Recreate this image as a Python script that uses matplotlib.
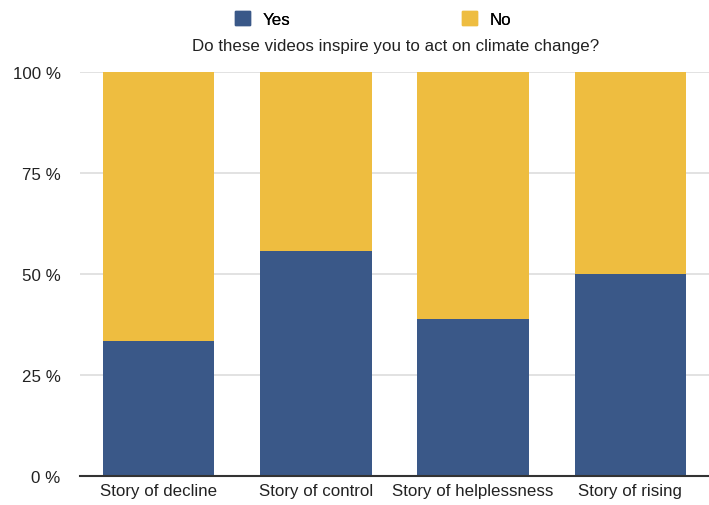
import matplotlib.pyplot as plt
from matplotlib.patches import Patch

# data
stories = ['Story of decline', 'Story of control', 'Story of helplessness', 'Story of rising']
yes_pct = [33.3, 55.6, 38.9, 50.0]
no_pct = [100 - v for v in yes_pct]
y_ticks = [0, 25, 50, 75, 100]
legend_names = ['Yes', 'No']

blue = '#3A5888'
yellow = '#EEBD40'
fs = 12.2

plt.rcParams['font.family'] = ['Liberation Sans', 'DejaVu Sans']

fig = plt.figure(figsize=(7.09, 5.06), dpi=100)
ax = fig.add_axes([80 / 709, 1 - 477 / 506, 1 - 80 / 709, (477 - 73) / 506])

x = range(len(stories))
ax.bar(x, yes_pct, width=0.71, color=blue, zorder=3)
ax.bar(x, no_pct, width=0.71, bottom=yes_pct, color=yellow, zorder=3)

ax.set_xlim(-0.5, 3.5)
ax.set_ylim(0, 100)
ax.set_yticks(y_ticks)
ax.set_yticklabels([f'{t} %' for t in y_ticks], fontsize=fs, color='#222222')
ax.set_xticks(list(x))
ax.set_xticklabels(stories, fontsize=fs, color='#222222')
ax.tick_params(axis='y', length=0, pad=14)
ax.tick_params(axis='x', length=0, pad=5)

ax.grid(axis='y', color='#DDDDDD', linewidth=1.2, zorder=0)
for s in ['top', 'right', 'left']:
    ax.spines[s].set_visible(False)
ax.spines['bottom'].set_color('#333333')
ax.spines['bottom'].set_linewidth(1.5)
ax.spines['bottom'].set_zorder(4)

# two one-entry legends so each square sits where it does in the original
for name, col, xpos in zip(legend_names, [blue, yellow], [235, 462]):
    leg = fig.legend(handles=[Patch(color=col, label=name)], loc='center left',
                     bbox_to_anchor=(xpos / 709, 1 - 20 / 506), frameon=False,
                     fontsize=fs, handlelength=0.9, handleheight=0.9,
                     handletextpad=0.75, borderpad=0, borderaxespad=0)
    fig.add_artist(leg)

fig.text(396 / 709, 1 - 46 / 506, 'Do these videos inspire you to act on climate change?',
         ha='center', va='center', fontsize=fs, color='#222222')

fig.savefig('out.png')
